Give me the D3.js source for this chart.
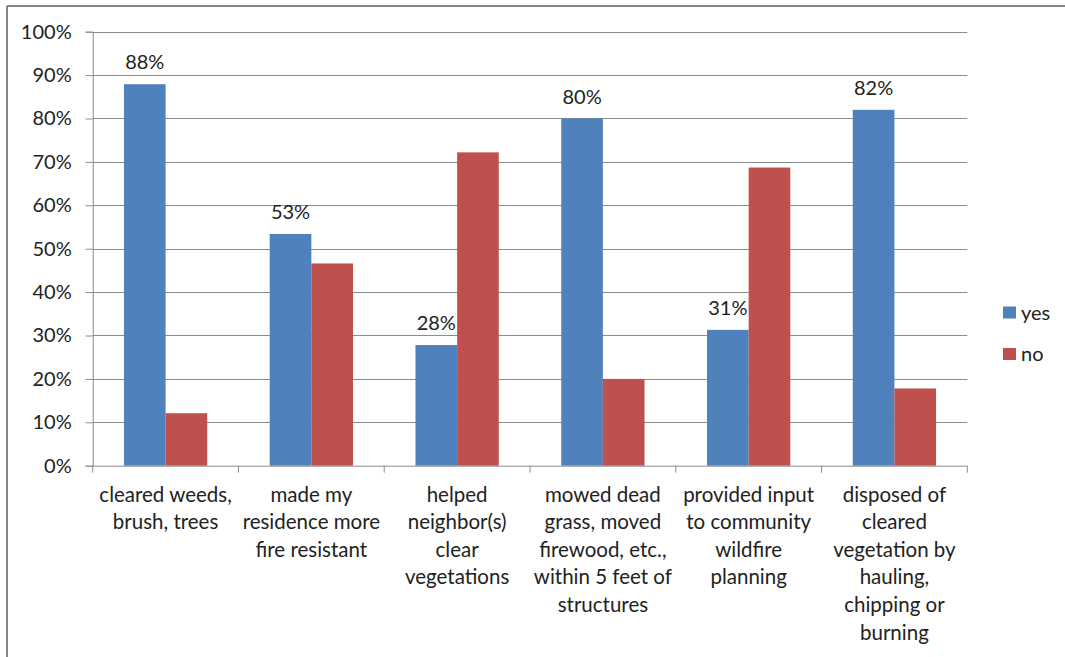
<!DOCTYPE html>
<html><head><meta charset="utf-8">
<script src="https://cdn.jsdelivr.net/npm/d3@7"></script>
<style>
html,body{margin:0;padding:0;background:#fff;}
svg{display:block;font-family:Lato,"Liberation Sans",sans-serif;}
</style></head>
<body><svg id="chart" width="1065" height="657"></svg>
<script>
const categories = [
  ["cleared weeds,","brush, trees"],
  ["made my","residence more","fire resistant"],
  ["helped","neighbor(s)","clear","vegetations"],
  ["mowed dead","grass, moved","firewood, etc.,","within 5 feet of","structures"],
  ["provided input","to community","wildfire","planning"],
  ["disposed of","cleared","vegetation by","hauling,","chipping or","burning"]
];
const seriesNames = ["yes","no"];
const yesValues = [87.9, 53.4, 27.8, 80.0, 31.3, 82.0];
const noValues = [12.1, 46.6, 72.2, 20.0, 68.7, 17.8];
const yesLabels = ["88%","53%","28%","80%","31%","82%"];
const yTicks = [0,10,20,30,40,50,60,70,80,90,100];
const colors = ["#4F81BD","#C0504D"];

const svg = d3.select("#chart");
const plotL = 92.7, plotR = 967.3, plotT = 31.7, plotB = 465.7;
const FS = 20, CFS = 20.5, TXT = "#222";

// outer frame (top and left visible)
svg.append("line").attr("x1",7).attr("x2",1065).attr("y1",6).attr("y2",6).attr("stroke","#868686").attr("stroke-width",2);
svg.append("line").attr("x1",7).attr("x2",7).attr("y1",6).attr("y2",657).attr("stroke","#868686").attr("stroke-width",2);

const idx = categories.map((d,i)=>i);
const x0 = d3.scaleBand().domain(idx).range([plotL,plotR]).paddingInner(0).paddingOuter(0);
const bw = x0.bandwidth()/3.5;
const x1 = d3.scaleBand().domain(seriesNames).range([0, 2*bw]);
const y = d3.scaleLinear().domain([0,100]).range([plotB, plotT]);

// gridlines
svg.append("g").selectAll("line").data(yTicks.filter(t=>t>0)).join("line")
  .attr("x1",plotL).attr("x2",plotR)
  .attr("y1",d=>Math.round(y(d))+0.5).attr("y2",d=>Math.round(y(d))+0.5)
  .attr("stroke","#8c8c8c").attr("stroke-width",1);

// y axis
const yAxis = d3.axisLeft(y).tickValues(yTicks).tickFormat(d=>d+"%").tickSize(7).tickPadding(14);
const gy = svg.append("g").attr("transform",`translate(${plotL},0)`).call(yAxis);
gy.select(".domain").attr("stroke","#8c8c8c");
gy.selectAll(".tick line").attr("stroke","#8c8c8c");
gy.selectAll(".tick text").attr("font-size",FS).attr("fill",TXT).attr("font-family","Lato");

// bars
const data = idx.map(i=>({i, vals:[yesValues[i], noValues[i]]}));
const groups = svg.append("g").selectAll("g").data(data).join("g")
  .attr("transform",d=>`translate(${x0(d.i)+0.75*bw},0)`);
groups.selectAll("rect").data(d=>d.vals.map((v,k)=>({v,k}))).join("rect")
  .attr("x",d=>x1(seriesNames[d.k]))
  .attr("width",x1.bandwidth())
  .attr("y",d=>y(d.v))
  .attr("height",d=>y(0)-y(d.v))
  .attr("fill",d=>colors[d.k]);

// value labels
svg.append("g").selectAll("text").data(idx).join("text")
  .attr("x",i=>x0(i)+0.75*bw+x1("yes")+x1.bandwidth()/2)
  .attr("y",i=>y(yesValues[i])-15)
  .attr("text-anchor","middle").attr("font-size",FS).attr("fill",TXT)
  .text(i=>yesLabels[i]);

// x axis
const gx = svg.append("g").attr("transform",`translate(0,${plotB})`);
gx.append("line").attr("x1",plotL).attr("x2",plotR).attr("y1",0.5).attr("y2",0.5).attr("stroke","#8c8c8c");
const bounds = idx.map(i=>x0(i)).concat([plotR]);
gx.selectAll("line.tk").data(bounds).join("line").attr("class","tk")
  .attr("x1",d=>d).attr("x2",d=>d).attr("y1",0).attr("y2",7).attr("stroke","#8c8c8c");
const labs = gx.selectAll("text.cat").data(idx).join("text").attr("class","cat")
  .attr("text-anchor","middle").attr("font-size",CFS).attr("fill",TXT);
labs.each(function(i){
  const t = d3.select(this);
  categories[i].forEach((line,j)=>{
    t.append("tspan").attr("x",x0(i)+x0.bandwidth()/2).attr("y",36+j*27.6).text(line);
  });
});

// legend
const lg = svg.append("g");
seriesNames.forEach((s,k)=>{
  lg.append("rect").attr("x",1003).attr("y",306.5+k*41.5).attr("width",13).attr("height",12).attr("fill",colors[k]);
  lg.append("text").attr("x",1021).attr("y",312.5+k*41.5).attr("dy","0.35em").attr("font-size",FS).attr("fill",TXT).text(s);
});
</script></body></html>
